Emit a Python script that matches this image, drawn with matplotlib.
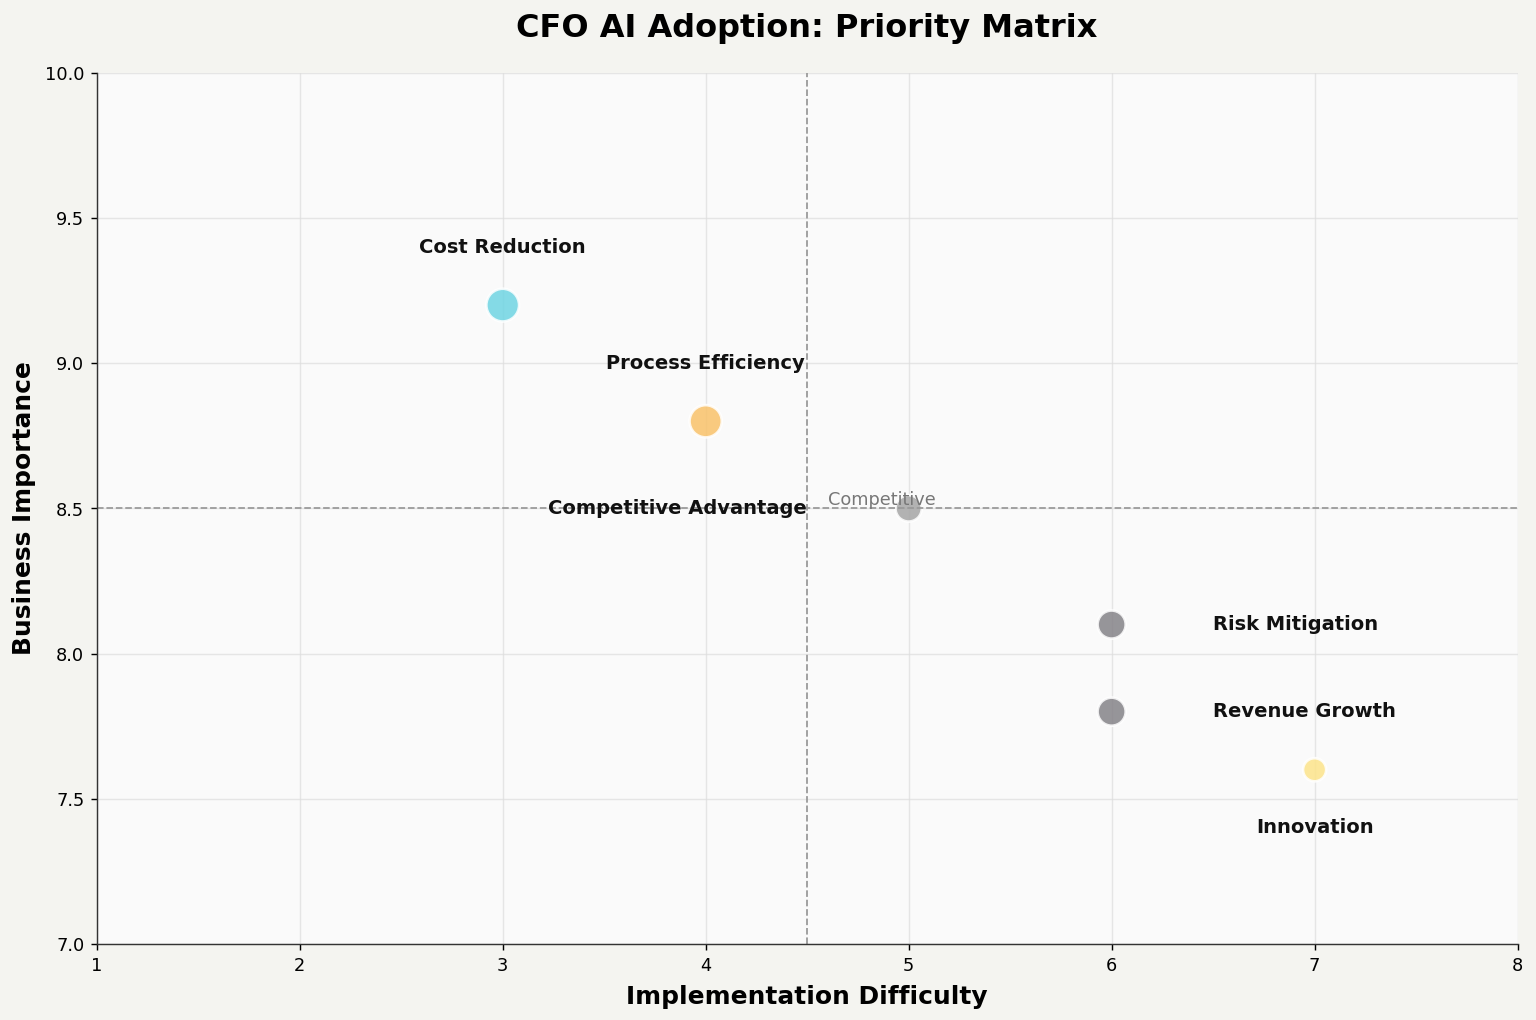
import matplotlib
matplotlib.use("Agg")
import matplotlib.pyplot as plt

categories = ["Cost Reduction", "Process Efficiency", "Competitive Advantage",
              "Risk Mitigation", "Revenue Growth", "Innovation"]
difficulty = [3, 4, 5, 6, 6, 7]
importance = [9.2, 8.8, 8.5, 8.1, 7.8, 7.6]
bubble_size = [340, 330, 220, 250, 250, 170]
colors = ["#6fd5e3", "#f9c26a", "#a6a6a6", "#858388", "#858388", "#fde48a"]

# label offsets (dx, dy, ha)
label_pos = [(0, 0.2, "center"), (0, 0.2, "center"), (-0.5, 0, "right"),
             (0.5, 0, "left"), (0.5, 0, "left"), (0, -0.2, "center")]

x_ticks = [1, 2, 3, 4, 5, 6, 7, 8]
y_ticks = [7.0, 7.5, 8.0, 8.5, 9.0, 9.5, 10.0]
x_mid = 4.5
y_mid = 8.5

fig = plt.figure(figsize=(12, 7.97), dpi=128, facecolor="#f4f4f0")
ax = fig.add_axes([0.063, 0.0745, 0.925, 0.854])
ax.set_facecolor("#fafafa")

ax.scatter(difficulty, importance, s=bubble_size, c=colors, alpha=0.85,
           edgecolors="white", linewidths=1.5, zorder=3)
ax.grid(True, color="#dddddd", linewidth=0.8, zorder=4, alpha=0.7)
ax.set_axisbelow(False)

for cat, x, y, (dx, dy, ha) in zip(categories, difficulty, importance, label_pos):
    ax.text(x + dx, y + dy, cat, ha=ha, va="center", fontsize=11,
            fontweight="bold", color="#111111", zorder=6)

ax.text(4.87, 8.53, "Competitive", ha="center", va="center", fontsize=10,
        color="#777777", zorder=6)

ax.axvline(x_mid, color="#999999", linestyle="--", linewidth=1, zorder=5)
ax.axhline(y_mid, color="#999999", linestyle="--", linewidth=1, zorder=5)

ax.set_xlim(1, 8)
ax.set_ylim(7, 10)
ax.set_xticks(x_ticks)
ax.set_yticks(y_ticks)
ax.tick_params(labelsize=10)
for s in ["top", "right"]:
    ax.spines[s].set_visible(False)
for s in ["left", "bottom"]:
    ax.spines[s].set_color("#333333")
    ax.spines[s].set_zorder(10)

ax.set_xlabel("Implementation Difficulty", fontsize=14, fontweight="bold", labelpad=6)
ax.set_ylabel("Business Importance", fontsize=14, fontweight="bold", labelpad=5)
ax.set_title("CFO AI Adoption: Priority Matrix", fontsize=18, fontweight="bold", pad=20)

fig.savefig("out.png", dpi=128, facecolor=fig.get_facecolor())
